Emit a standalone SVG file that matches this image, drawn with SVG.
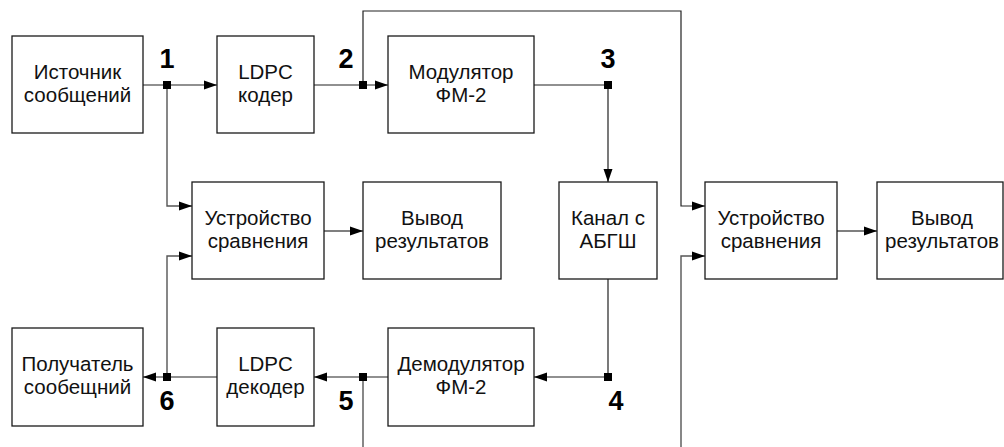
<svg xmlns="http://www.w3.org/2000/svg" width="1004" height="447" viewBox="0 0 1004 447">
<defs>
<marker id="arr" markerWidth="13" markerHeight="10" refX="13" refY="5" orient="auto" markerUnits="userSpaceOnUse">
<path d="M0,0.5 L13,5 L0,9.5 Z" fill="#000"/>
</marker>
<style>
.box{fill:#fff;stroke:#1a1a1a;stroke-width:1.3}
.t{font-family:"Liberation Sans",Arial,sans-serif;font-size:20.5px;fill:#111;text-anchor:middle}
.n{font-family:"Liberation Sans",Arial,sans-serif;font-size:27px;font-weight:bold;fill:#000;text-anchor:middle}
.ln{fill:none;stroke:#222;stroke-width:1.2}
.lg{fill:none;stroke:#555;stroke-width:1.4}
.a{marker-end:url(#arr)}
.j{fill:#000}
</style>
</defs>
<rect width="1004" height="447" fill="#fff"/>
<g id="connectors">
<path class="ln a" d="M143,85 H217"/>
<path class="lg a" d="M167,85 V206 H192"/>
<path class="ln a" d="M314,85 H388"/>
<path class="ln a" d="M363,85 V11 H681 V206 H705"/>
<path class="ln a" d="M534,85 H608 V182"/>
<path class="ln a" d="M608,279 V377 H534"/>
<path class="ln a" d="M388,377 H314"/>
<path class="lg" d="M363,377 V447"/>
<path class="lg a" d="M681,447 V256 H705"/>
<path class="ln a" d="M217,377 H143"/>
<path class="lg a" d="M167,377 V256 H192"/>
<path class="lg a" d="M324,231 H363"/>
<path class="lg a" d="M837,231 H877"/>
<rect class="j" x="163" y="81" width="8" height="8"/>
<rect class="j" x="359" y="81" width="8" height="8"/>
<rect class="j" x="604" y="81" width="8" height="8"/>
<rect class="j" x="604" y="373" width="8" height="8"/>
<rect class="j" x="359" y="373" width="8" height="8"/>
<rect class="j" x="163" y="373" width="8" height="8"/>
</g>
<g id="labels">
<text class="n" x="167" y="68">1</text>
<text class="n" x="346" y="68">2</text>
<text class="n" x="608" y="68">3</text>
<text class="n" x="616" y="410">4</text>
<text class="n" x="346" y="410">5</text>
<text class="n" x="167" y="410">6</text>
</g>
<g id="source"><rect class="box" x="12" y="36" width="131" height="97"/><text class="t" x="77.5" y="79">Источник</text><text class="t" x="77.5" y="102">сообщений</text></g>
<g id="ldpc-coder"><rect class="box" x="217" y="36" width="97" height="97"/><text class="t" x="265.5" y="79">LDPC</text><text class="t" x="265.5" y="102">кодер</text></g>
<g id="modulator"><rect class="box" x="388" y="36" width="146" height="97"/><text class="t" x="461" y="79">Модулятор</text><text class="t" x="461" y="102">ФМ-2</text></g>
<g id="compare1"><rect class="box" x="192" y="182" width="132" height="97"/><text class="t" x="258" y="225">Устройство</text><text class="t" x="258" y="248">сравнения</text></g>
<g id="output1"><rect class="box" x="363" y="182" width="138" height="97"/><text class="t" x="432" y="225">Вывод</text><text class="t" x="432" y="248">результатов</text></g>
<g id="channel"><rect class="box" x="559" y="182" width="98" height="97"/><text class="t" x="608" y="225">Канал с</text><text class="t" x="608" y="248">АБГШ</text></g>
<g id="compare2"><rect class="box" x="705" y="182" width="132" height="97"/><text class="t" x="771" y="225">Устройство</text><text class="t" x="771" y="248">сравнения</text></g>
<g id="output2"><rect class="box" x="877" y="182" width="126" height="97"/><text class="t" x="942" y="225">Вывод</text><text class="t" x="942" y="248">результатов</text></g>
<g id="receiver"><rect class="box" x="12" y="328" width="131" height="98"/><text class="t" x="77.5" y="371">Получатель</text><text class="t" x="77.5" y="394">сообещний</text></g>
<g id="ldpc-decoder"><rect class="box" x="217" y="328" width="97" height="98"/><text class="t" x="265.5" y="371">LDPC</text><text class="t" x="265.5" y="394">декодер</text></g>
<g id="demodulator"><rect class="box" x="388" y="328" width="146" height="98"/><text class="t" x="461" y="371">Демодулятор</text><text class="t" x="461" y="394">ФМ-2</text></g>
</svg>
